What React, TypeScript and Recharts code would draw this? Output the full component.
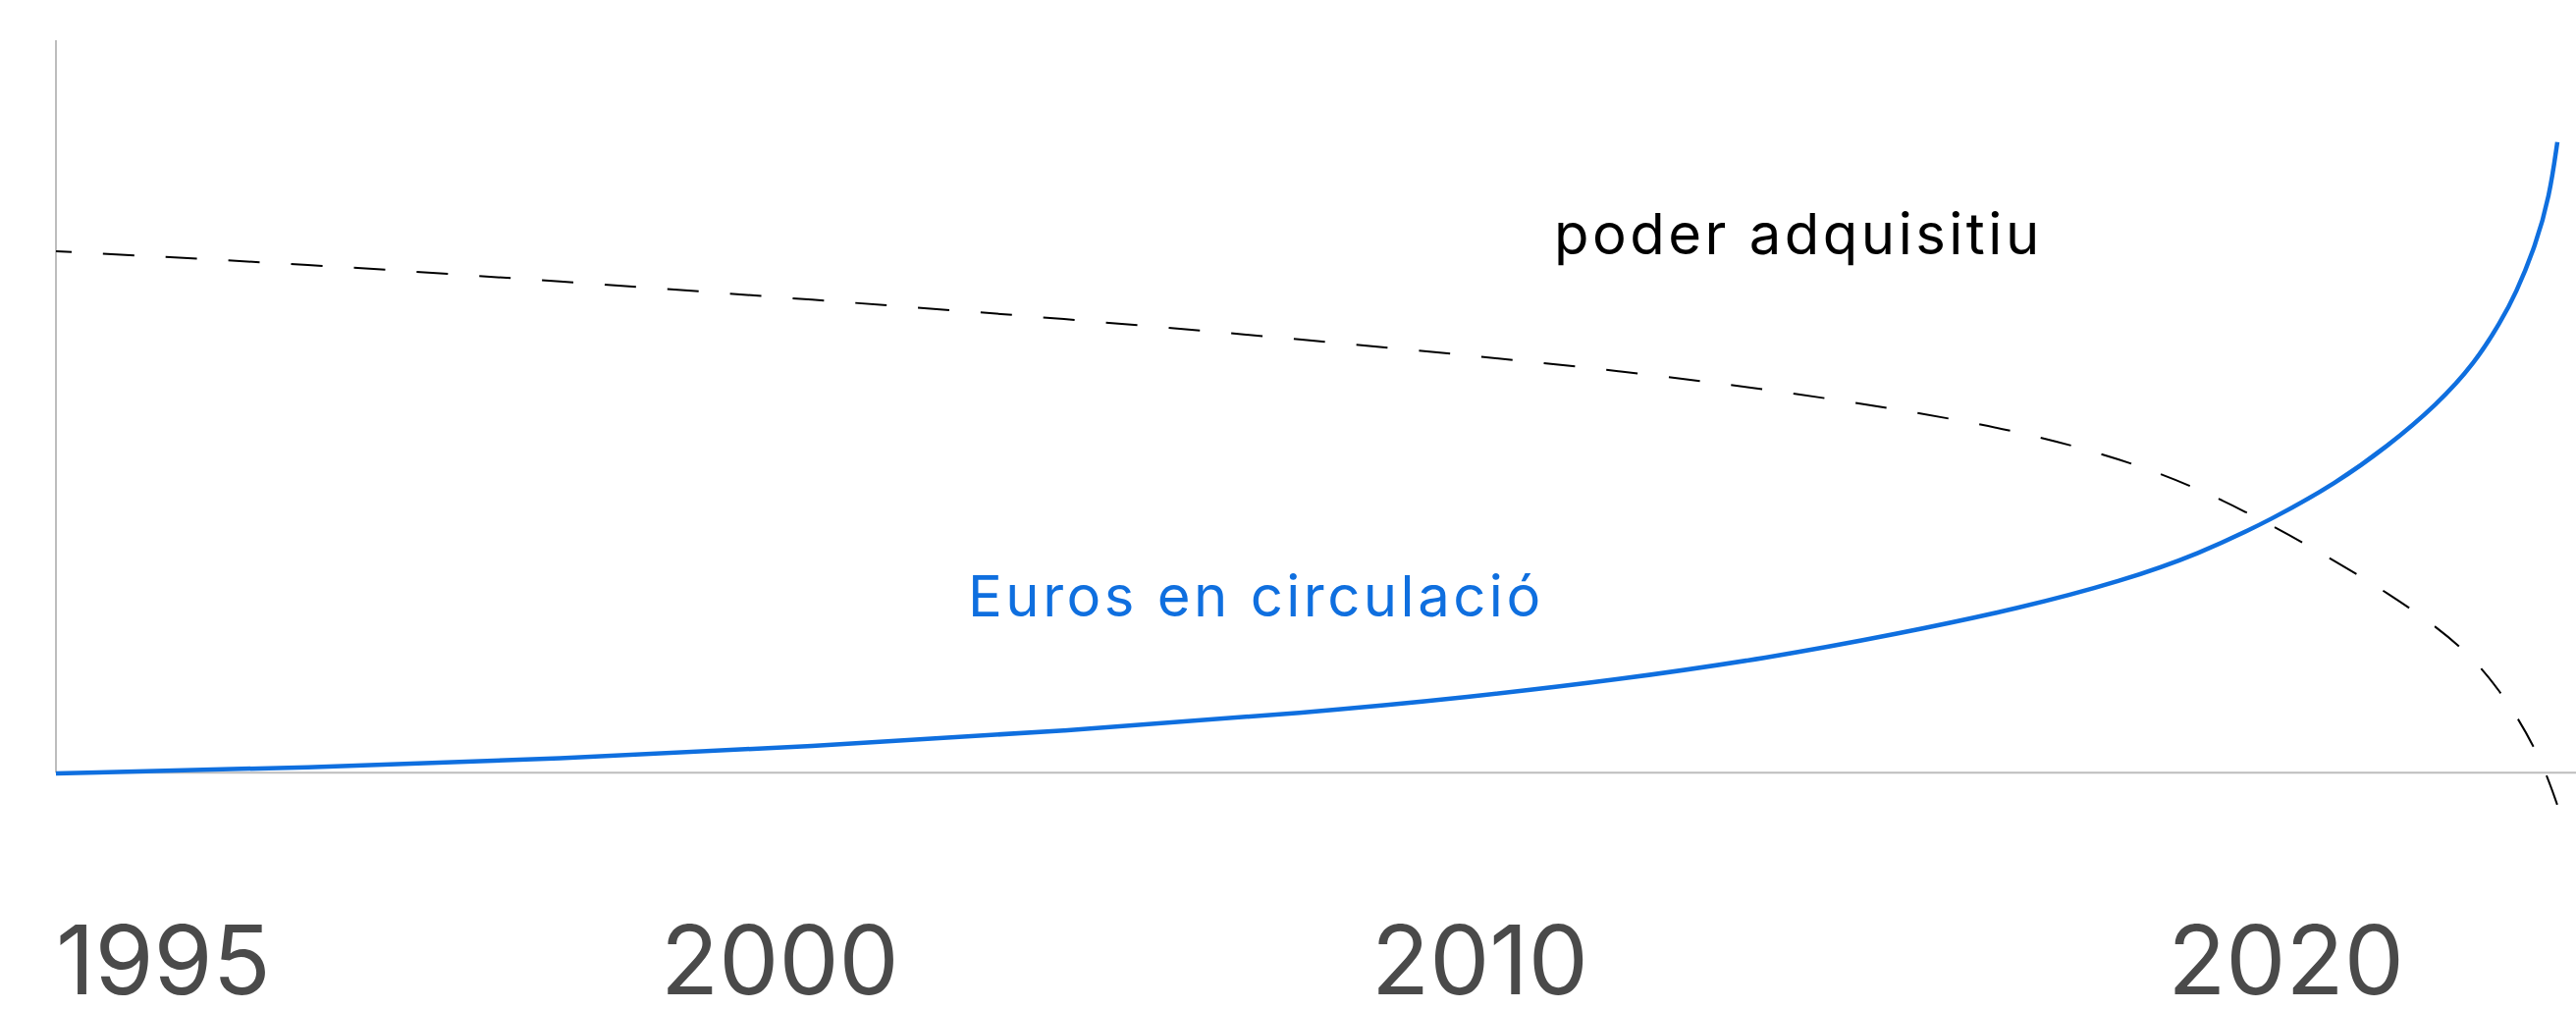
import { LineChart, Line, XAxis, YAxis, ReferenceLine } from 'recharts';

// posició relativa dins del període (0 = 1995, 100 = final de l'eix)
const progress = [0, 10, 20, 30, 40, 50, 56, 62, 68, 73, 78, 82, 85, 88, 90.5, 92.5, 94.5, 96, 97, 97.6, 98.4, 98.95, 99.26];
const eurosEnCirculacio = [-0.1, 0.7, 1.9, 3.6, 5.7, 8.3, 10.3, 12.7, 15.7, 18.9, 22.5, 26.2, 29.8, 34.7, 39.6, 44.5, 50.3, 56, 61.5, 65.3, 72, 78.7, 86.1];
const poderAdquisitiu = [71.2, 69.4, 67.1, 64.6, 62, 59, 57, 54.9, 52.3, 49.7, 46.6, 42.8, 38.9, 33.7, 28.8, 24.6, 19.9, 15.4, 11, 8, 3.2, -1.3, -4.4];

const tickYears = ['1995', '2000', '2010', '2020'];
const tickAt = [0, 24, 52.2, 83.8];

const data = progress.map((t, i) => ({
    t,
    euros: eurosEnCirculacio[i],
    poder: poderAdquisitiu[i],
}));

const BLUE = '#0f6fdf';
const AXIS = '#bdbdbd';
const FONT = 'Inter, "Noto Sans", sans-serif';

function YearTick(props: any) {
    const { x, y, payload } = props;
    const i = tickAt.indexOf(payload.value);
    return (
        <text x={x} y={y + 151} textAnchor="start" fill="#4a4a4a" fontSize={97} fontFamily={FONT}>
            {tickYears[i]}
        </text>
    );
}

export default function App() {
    return (
        <div style={{ width: 2624, height: 1028, background: '#fff' }}>
            <style>{`body { margin: 0; }`}</style>
            <LineChart width={2624} height={1028} data={data} margin={{ top: 41, right: 0, bottom: 0, left: 57 }}>
                <XAxis
                    dataKey="t"
                    type="number"
                    domain={[0, 100]}
                    ticks={tickAt}
                    interval={0}
                    height={166}
                    axisLine={false}
                    tickLine={false}
                    tickSize={0}
                    tickMargin={0}
                    tick={<YearTick />}
                />
                <YAxis hide type="number" domain={[-10, 100]} />

                {/* eixos dibuixats a mà: l'horitzontal passa per 0 */}
                <ReferenceLine y={0} stroke={AXIS} strokeWidth={2} />
                <ReferenceLine segment={[{ x: 0, y: 0 }, { x: 0, y: 100 }]} stroke={AXIS} strokeWidth={2} />

                <Line
                    type="basis"
                    dataKey="poder"
                    stroke="#000"
                    strokeWidth={2}
                    strokeDasharray="32 32"
                    strokeDashoffset={16}
                    dot={false}
                    activeDot={false}
                    isAnimationActive={false}
                />
                <Line
                    type="basis"
                    dataKey="euros"
                    stroke={BLUE}
                    strokeWidth={4.5}
                    dot={false}
                    activeDot={false}
                    isAnimationActive={false}
                />

                <text x={1583} y={259} fontSize={58} letterSpacing={3.5} fontFamily={FONT} fill="#000">
                    poder adquisitiu
                </text>
                <text x={986} y={628} fontSize={58} letterSpacing={3.5} fontFamily={FONT} fill={BLUE}>
                    Euros en circulació
                </text>
            </LineChart>
        </div>
    );
}
